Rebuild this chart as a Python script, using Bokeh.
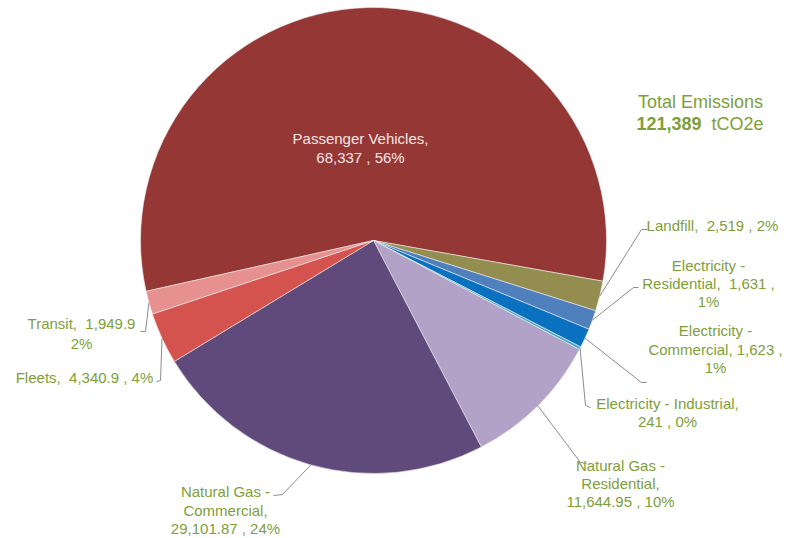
import math
from bokeh.plotting import figure
from bokeh.models import Range1d, ColumnDataSource
from bokeh.core.properties import value
from bokeh.embed import file_html
from bokeh.resources import INLINE

# ---------------- data ----------------
categories = ["Passenger Vehicles", "Landfill", "Electricity - Residential",
              "Electricity - Commercial", "Electricity - Industrial",
              "Natural Gas - Residential", "Natural Gas - Commercial",
              "Fleets", "Transit"]
values = [68337, 2519, 1631, 1623, 241, 11644.95, 29101.87, 4340.9, 1949.9]
value_labels = ["68,337", "2,519", "1,631", "1,623", "241", "11,644.95",
                "29,101.87", "4,340.9", "1,949.9"]
pct_labels = ["56%", "2%", "1%", "1%", "0%", "10%", "24%", "4%", "2%"]
total_label = "Total Emissions"
unit_label = "tCO2e"

# ---------------- style / layout ----------------
W, H = 797, 538
CX, CY, R = 373, 240, 233          # pie centre (image px, y down) and radius
START_DEG = 192.6                   # angle where first slice begins (clockwise)
colors = ["#953735", "#948D50", "#4F7FBD", "#0A70C0", "#4BACC6",
          "#B3A2C7", "#604A7B", "#D5534F", "#E6908F"]
GREEN = "#7E9E3A"
FONT = "Liberation Sans"
FS = "15px"
NB = "\u00a0"

# label line templates ({a}/{b}: parts of category, {c}: category, {v}: value, {p}: pct)
templates = [
    ["{c},", "{v} , {p}"],
    ["{c}, " + NB + "{v} , {p}"],
    ["{a} -", "{b}, " + NB + "{v} ,", "{p}"],
    ["{a} -", "{b}, {v} ,", "{p}"],
    ["{a} - {b},", "{v} , {p}"],
    ["{a} -", "{b},", "{v} , {p}"],
    ["{a} -", "{b},", "{v} , {p}"],
    ["{c}, " + NB + "{v} , {p}"],
    ["{c}, " + NB + "{v}", "{p}"],
]
label_pos = [(360, 138), (712, 225), (708, 265), (715, 330), (667, 403),
             (620, 465), (225, 491), (84, 377), (81, 323)]
line_gap = [19, 18, 18, 18.5, 18, 18, 18.5, 18, 20]
leader_pts = [None,
              [(641, 229), (647, 229)],
              [(633, 287), (638, 287)],
              [(641, 382), (646, 382)],
              [(585, 405), (590, 407)],
              [(580, 462), (586, 463)],
              [(282, 494), (273, 495)],
              [(160, 380), (156, 381)],
              [(145, 331), (140, 331)]]

p = figure(width=W, height=H, x_range=Range1d(0, W), y_range=Range1d(0, H),
           output_backend="svg", toolbar_location=None, min_border=0)
p.axis.visible = False
p.grid.visible = False
p.outline_line_color = None
p.background_fill_color = "white"
p.border_fill_color = "white"

total = sum(values)
starts, ends, mids = [], [], []
cum = 0.0
for v in values:
    a_before = math.radians(START_DEG) - cum / total * 2 * math.pi
    cum += v
    a_after = math.radians(START_DEG) - cum / total * 2 * math.pi
    starts.append(a_after)
    ends.append(a_before)
    mids.append((a_before + a_after) / 2)

src = ColumnDataSource(dict(start=starts, end=ends, color=colors))
p.wedge(x=CX, y=H - CY, radius=R, start_angle="start", end_angle="end",
        fill_color="color", line_color="#EDEDED", line_width=0.6, source=src)

# leader lines
xs, ys = [], []
for i, pts in enumerate(leader_pts):
    if pts is None:
        continue
    ex = CX + R * math.cos(mids[i])
    ey = CY - R * math.sin(mids[i])
    lx = [ex] + [q[0] for q in pts]
    ly = [H - ey] + [H - q[1] for q in pts]
    xs.append(lx)
    ys.append(ly)
p.multi_line(xs=xs, ys=ys, line_color="#8C8C8C", line_width=1)

# labels
tx, ty, tt, tc = [], [], [], []
for i, cat in enumerate(categories):
    parts = cat.split(" - ")
    a = parts[0]
    b = parts[1] if len(parts) > 1 else ""
    x0, y0 = label_pos[i]
    for k, tpl in enumerate(templates[i]):
        tx.append(x0)
        ty.append(H - (y0 + k * line_gap[i]))
        tt.append(tpl.format(a=a, b=b, c=cat, v=value_labels[i], p=pct_labels[i]))
        tc.append("#F6E4E3" if i == 0 else GREEN)
p.text(x=tx, y=ty, text=tt, text_color=tc, text_align="center",
       text_baseline="middle", text_font=value(FONT), text_font_size=FS)

# total emissions block
p.text(x=[700], y=[H - 101], text=[total_label], text_color=GREEN,
       text_align="center", text_baseline="middle", text_font=value(FONT),
       text_font_size="18px")
p.text(x=[701], y=[H - 123], text=[f"{round(total):,}"], text_color=GREEN,
       text_align="right", text_baseline="middle", text_font=value(FONT),
       text_font_size="18px", text_font_style="bold")
p.text(x=[711], y=[H - 123], text=[unit_label], text_color=GREEN,
       text_align="left", text_baseline="middle", text_font=value(FONT),
       text_font_size="18px")

open("out.html", "w").write(file_html(p, INLINE))
